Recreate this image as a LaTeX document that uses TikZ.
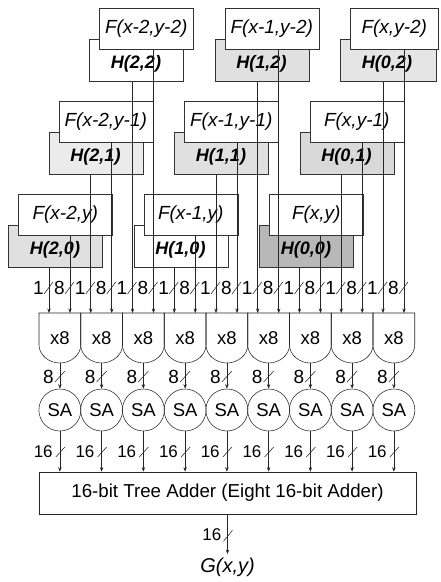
\documentclass[tikz,border=0pt]{standalone}
\usepackage{fontspec}
\setmainfont{Liberation Sans}
\usetikzlibrary{arrows.meta,calc}
\begin{document}
\begin{tikzpicture}[x=1pt,y=-1pt,
  ln/.style={line width=0.55pt, draw=black!85},
  arr/.style={ln,-{Stealth[length=4.5pt,width=3.4pt]}},
  fbox/.style={draw=black!80, line width=0.55pt, fill=white, minimum width=94pt, minimum height=41pt, inner sep=0pt, anchor=north west},
  hbox/.style={draw=black!80, line width=0.55pt, minimum width=94pt, minimum height=42pt, inner sep=0pt, anchor=north west},
  ftext/.style={font=\fontsize{19}{22}\selectfont\itshape, inner sep=0pt},
  htext/.style={font=\fontsize{18}{21}\selectfont\bfseries\itshape, inner sep=0pt},
  gtext/.style={font=\fontsize{18.5}{21}\selectfont, inner sep=0pt},
  lbl/.style={font=\fontsize{19}{22}\selectfont, inner sep=0pt, anchor=east},
  lblb/.style={font=\fontsize{17}{20}\selectfont, inner sep=0pt, anchor=east},
  sacirc/.style={circle, draw=black!85, line width=0.55pt, minimum size=42pt, inner sep=0pt, font=\fontsize{18.5}{21}\selectfont}]
\useasboundingbox (0,0) rectangle (441,582);

% F / H register boxes
\foreach \p/\r/\c/\fl/\hl/\hf/\fw/\hw in {
 0/2/0/{F(x-2,y)}/{H(2,0)}/black!12/94/94,
 1/1/0/{F(x-2,y-1)}/{H(2,1)}/black!8/94/94,
 2/0/0/{F(x-2,y-2)}/{H(2,2)}/white/94/94,
 3/2/1/{F(x-1,y)}/{H(1,0)}/white/94/94,
 4/1/1/{F(x-1,y-1)}/{H(1,1)}/black!12/94/94,
 5/0/1/{F(x-1,y-2)}/{H(1,2)}/black!12/94/94,
 6/2/2/{F(x,y)}/{H(0,0)}/black!28/94/94,
 7/1/2/{F(x,y-1)}/{H(0,1)}/black!15/94/94,
 8/0/2/{F(x,y-2)}/{H(0,2)}/black!10/88/96}
{
 \pgfmathsetmacro\fx{99+125.5*\c-40.5*\r}
 \pgfmathsetmacro\fy{8+93*\r}
 \node[hbox, fill=\hf, minimum width=\hw pt] (H\p) at (\fx-10,\fy+31) {};
 \node[fbox, minimum width=\fw pt] (F\p) at (\fx,\fy) {};
 \node[ftext] at (F\p.center) {\fl};
 \node[htext] at (\fx+37,\fy+56) {\hl};
}

% multipliers, square-accumulators, adder
\node[draw=black!85, line width=0.55pt, minimum width=377pt, minimum height=42pt, inner sep=0pt,
      font=\fontsize{18.7}{22}\selectfont] (A) at (227.5,493) {16-bit Tree Adder (Eight 16-bit Adder)};

\foreach \i in {0,...,8}{
 \pgfmathsetmacro\L{39+41.75*\i}
 \pgfmathsetmacro\cx{\L+20.875}
 \draw[ln] (\L,313) -- (\L,345) .. controls (\L,355) and (\L+10,363) .. (\cx,363)
   .. controls (\L+31.75,363) and (\L+41.75,355) .. (\L+41.75,345) -- (\L+41.75,313) -- cycle;
 \node[gtext] (M\i) at (\cx,338) {x8};
 \coordinate (mo\i) at (\cx,363);
 \node[sacirc] (S\i) at (\cx,410) {SA};
 \draw[arr] (mo\i) -- (S\i.north);
 \draw[ln] (\cx-5,382) -- (\cx+5,371);
 \node[lbl] at (\cx-6,377) {8};
 \draw[arr] (S\i.south) -- (S\i.south |- A.north);
 \draw[ln] (\cx-4,457) -- (\cx+5,447);
 \node[lblb] at (\cx-7,452) {16};
}

% input buses
\foreach \p in {0,...,8}{
 \pgfmathsetmacro\hx{49+41.75*\p}
 \coordinate (ih\p) at (\hx,313);
 \coordinate (if\p) at (\hx+21,313);
 \draw[arr] (H\p.south -| ih\p) -- (ih\p);
 \draw[arr] (F\p.south -| if\p) -- (if\p);
 \draw[ln] (\hx-5,294) -- (\hx+4,282);
 \draw[ln] (\hx+16,294) -- (\hx+25,282);
 \node[lbl] at (\hx-5,288) {1};
 \node[lbl] at (\hx+16,288) {8};
}

% output
\node[anchor=north, inner sep=0pt, font=\fontsize{20}{24}\selectfont\itshape] (G) at (227.5,558) {G(x,y)};
\draw[arr, shorten >=4pt] (A.south) -- (G.north);
\draw[ln] (A.south) ++(-4,27) -- ++(9,-11);
\node[lblb] at (221.5,535) {16};
\end{tikzpicture}
\end{document}
